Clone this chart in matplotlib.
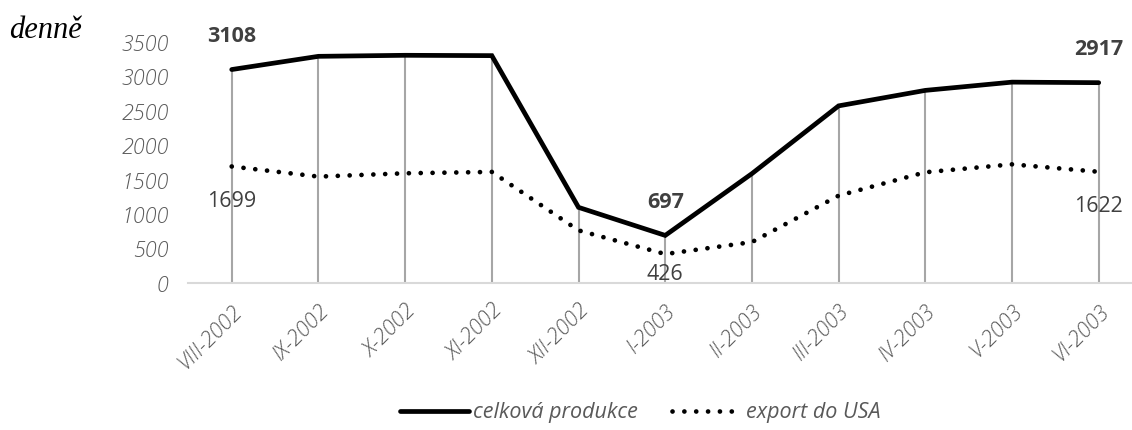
import matplotlib.pyplot as plt

# monthly data (daily averages)
months = ['VIII-2002', 'IX-2002', 'X-2002', 'XI-2002', 'XII-2002', 'I-2003',
          'II-2003', 'III-2003', 'IV-2003', 'V-2003', 'VI-2003']
produkce = [3108, 3300, 3315, 3310, 1105, 697, 1595, 2580, 2805, 2925, 2917]
export_usa = [1699, 1552, 1600, 1620, 770, 426, 600, 1275, 1615, 1730, 1622]

# which points get a value label
label_idx = [0, 5, 10]

gray_txt = '#595959'
lbl_txt = '#404040'

fig = plt.figure(figsize=(11.32, 4.3), dpi=100)
ax = fig.add_axes([0.1664, 0.341, 0.8425, 0.560])

x = list(range(len(months)))

# drop lines from each point down to the axis
top = [max(a, b) for a, b in zip(produkce, export_usa)]
ax.vlines(x, 0, top, color='#a6a6a6', linewidth=1.5, zorder=1)

ax.plot(x, produkce, color='black', linewidth=3.4, solid_capstyle='round',
        solid_joinstyle='miter', label='celková produkce', zorder=3)
ax.plot(x, export_usa, color='black', linewidth=3.4,
        linestyle=(0, (0.01, 2.5)), dash_capstyle='round',
        label='export do USA', zorder=3)

for i in label_idx:
    ax.annotate(str(produkce[i]), (x[i], produkce[i]), xytext=(0, 33),
                textcoords='offset pixels', ha='center', va='center',
                fontsize=15.5, fontweight='bold', color=lbl_txt,
                family='Open Sans')
    dy = -20 if export_usa[i] < 500 else -35
    ax.annotate(str(export_usa[i]), (x[i], export_usa[i]), xytext=(0, dy),
                textcoords='offset pixels', ha='center', va='center',
                fontsize=15.5, color=lbl_txt, family='Open Sans')

ax.set_xlim(-0.5, len(months) - 0.5)
ax.set_ylim(0, 3500)
ax.set_yticks(range(0, 3501, 500))
ax.set_xticks(x)
ax.set_xticklabels(months, rotation=45, ha='right', rotation_mode='anchor')

for s in ['top', 'right', 'left']:
    ax.spines[s].set_visible(False)
ax.spines['bottom'].set_color('#d9d9d9')
ax.spines['bottom'].set_linewidth(1.5)
ax.tick_params(axis='both', length=0, labelcolor=gray_txt, labelsize=15.5)
ax.tick_params(axis='y', pad=14)
ax.tick_params(axis='x', pad=12)
for t in ax.get_xticklabels() + ax.get_yticklabels():
    t.set_fontstyle('italic')
    t.set_family('Open Sans')
    t.set_fontweight('light')

fig.text(0.008, 0.93, 'denně', family='Liberation Serif', style='italic',
         fontsize=22, color='black', va='center', ha='left')

leg = fig.legend(loc='center', bbox_to_anchor=(0.5654, 0.04), ncol=2,
                 frameon=False, handlelength=3.2, handletextpad=0.2,
                 columnspacing=1.6,
                 prop={'family': 'Open Sans', 'style': 'italic', 'size': 15.5})
for t in leg.get_texts():
    t.set_color(gray_txt)

fig.savefig('out.png', dpi=100)
